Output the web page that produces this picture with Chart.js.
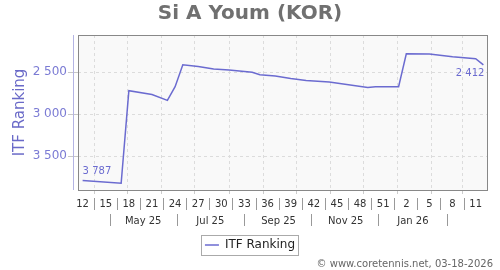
<!DOCTYPE html>
<html>
<head>
<meta charset="utf-8">
<script src="https://cdn.jsdelivr.net/npm/chart.js@4.4.1/dist/chart.umd.min.js"></script>
<style>
  html, body { margin: 0; padding: 0; background: #fff; }
  #wrap { width: 500px; height: 270px; }
</style>
</head>
<body>
<div id="wrap"><canvas id="chart"></canvas></div>
<script>
// weekly ranking points (week index counted from the first ranking week)
const weekIndex = [0, 5, 6, 9, 11, 12, 13, 15, 17, 19, 22, 23, 25, 27, 29, 32, 37, 38, 41, 42, 45, 48, 51, 52];
const ranking = [3787, 3821, 2719, 2765, 2834, 2671, 2410, 2430, 2461, 2473, 2500, 2530, 2544, 2575, 2598, 2615, 2680, 2672, 2672, 2280, 2283, 2315, 2338, 2412];

const weekLabels = ["12", "15", "18", "21", "24", "27", "30", "33", "36", "39", "42", "45", "48", "51", "2", "5", "8", "11"];
const weekLabelIndex = [0, 3, 6, 9, 12, 15, 18, 21, 24, 27, 30, 33, 36, 39, 42, 45, 48, 51];

const monthLabels = ["May 25", "Jul 25", "Sep 25", "Nov 25", "Jan 26"];
const monthLabelDates = ["2025-05-15", "2025-07-15", "2025-09-15", "2025-11-15", "2026-01-15"];
const monthSeparatorDates = ["2025-04-15", "2025-06-15", "2025-08-15", "2025-10-15", "2025-12-15", "2026-02-15"];
const monthGridDates = ["2025-04-01", "2025-05-01", "2025-06-01", "2025-07-01", "2025-08-01", "2025-09-01",
  "2025-10-01", "2025-11-01", "2025-12-01", "2026-01-01", "2026-02-01", "2026-03-01"];
const rankTicks = [2500, 3000, 3500];
const firstWeekDate = "2025-03-21";

const X_MIN = -0.6;
const X_MAX = 52.6;
const Y_MIN = 2056;
const Y_MAX = 3901;
const LINE_COLOR = "#6b6bd0";

Chart.defaults.font.family = "'DejaVu Sans', Verdana, sans-serif";

function toWeeks(date) {
  return (Date.parse(date) - Date.parse(firstWeekDate)) / (7 * 86400000);
}

function fmt(n) {
  return String(n).replace(/\B(?=(\d{3})+(?!\d))/g, " ");
}

// an x axis row showing labels with little "|" separators between them
function labelAxis(weight, values, labels, separators, height, pad) {
  const ticks = values.map((v, i) => ({ value: v, label: labels[i] }))
    .concat(separators.map((v) => ({ value: v, label: "" })))
    .sort((a, b) => a.value - b.value);
  return {
    type: "linear",
    position: "bottom",
    weight,
    min: X_MIN,
    max: X_MAX,
    afterBuildTicks: (scale) => { scale.ticks = ticks.map((t) => ({ value: t.value })); },
    afterFit: (scale) => { scale.height = height; },
    border: { display: false },
    grid: {
      drawOnChartArea: false,
      drawTicks: true,
      tickLength: 12,
      tickColor: (ctx) => (ctx.tick && separators.includes(ctx.tick.value) ? "#999" : "rgba(0,0,0,0)"),
    },
    ticks: {
      autoSkip: false,
      maxRotation: 0,
      minRotation: 0,
      padding: pad,
      color: "#333",
      font: { size: 10 },
      callback: (value, index) => ticks[index].label,
    },
  };
}

const weekSeparators = weekLabelIndex.slice(1).map((k, i) => (k + weekLabelIndex[i]) / 2);

const frame = {
  id: "frame",
  beforeDraw(chart) {
    const { ctx, chartArea: a } = chart;
    ctx.save();
    ctx.fillStyle = "#f9f9f9";
    ctx.fillRect(a.left, a.top, a.width, a.height);
    ctx.restore();
  },
  afterDraw(chart) {
    const { ctx, chartArea: a } = chart;
    ctx.save();
    ctx.strokeStyle = "#888";
    ctx.lineWidth = 1;
    ctx.strokeRect(Math.round(a.left) + 0.5, Math.round(a.top) + 0.5, Math.round(a.width) - 1, Math.round(a.height));
    ctx.strokeStyle = "#b4b4e4";
    ctx.beginPath();
    ctx.moveTo(Math.round(a.left) - 4.5, a.top);
    ctx.lineTo(Math.round(a.left) - 4.5, a.bottom);
    ctx.stroke();
    const box = chart.legend.legendHitBoxes[0];
    if (box) {
      ctx.strokeStyle = "#aaa";
      ctx.strokeRect(Math.round(box.left) - 3.5, Math.round(box.top) - 3.5, Math.round(box.width) + 7, Math.round(box.height) + 8);
    }
    ctx.restore();
  },
};

const pointLabels = {
  id: "pointLabels",
  afterDatasetsDraw(chart) {
    const pts = chart.getDatasetMeta(0).data;
    const ctx = chart.ctx;
    const first = pts[0];
    const last = pts[pts.length - 1];
    ctx.save();
    ctx.font = "10px 'DejaVu Sans'";
    ctx.fillStyle = LINE_COLOR;
    ctx.textBaseline = "middle";
    ctx.textAlign = "left";
    ctx.fillText(fmt(ranking[0]), first.x, first.y - 9);
    ctx.textAlign = "right";
    ctx.fillText(fmt(ranking[ranking.length - 1]), last.x + 1, last.y + 8);
    ctx.restore();
  },
};

new Chart(document.getElementById("chart"), {
  type: "line",
  data: {
    datasets: [{
      label: "ITF Ranking",
      data: weekIndex.map((k, i) => ({ x: k, y: ranking[i] })),
      borderColor: LINE_COLOR,
      backgroundColor: LINE_COLOR,
      borderWidth: 1.5,
      pointRadius: 0,
      tension: 0,
      xAxisID: "x",
      yAxisID: "y",
    }],
  },
  options: {
    responsive: true,
    maintainAspectRatio: false,
    animation: false,
    layout: { padding: { left: 7, right: 7, top: 0, bottom: 0 } },
    scales: {
      x: {
        type: "linear",
        position: "bottom",
        weight: 0,
        min: X_MIN,
        max: X_MAX,
        afterBuildTicks: (scale) => { scale.ticks = monthGridDates.map((d) => ({ value: toWeeks(d) })); },
        afterFit: (scale) => { scale.height = 8; },
        border: { display: false, dash: [3, 3] },
        grid: { color: "#dcdcdc", drawTicks: true, tickLength: 4, tickColor: "#ccc" },
        ticks: { display: false },
      },
      xWeek: labelAxis(1, weekLabelIndex, weekLabels, weekSeparators, 16, -12),
      xMonth: labelAxis(2, monthLabelDates.map(toWeeks), monthLabels, monthSeparatorDates.map(toWeeks), 19, -11),
      y: {
        position: "left",
        reverse: true,
        min: Y_MIN,
        max: Y_MAX,
        afterBuildTicks: (scale) => { scale.ticks = rankTicks.map((v) => ({ value: v })); },
        afterFit: (scale) => { scale.width = 71; },
        border: { display: false, dash: [3, 3] },
        grid: { color: "#dcdcdc", tickLength: 10, tickColor: "#c8c8c8" },
        ticks: { color: "#7b7bd4", font: { size: 12 }, padding: 1, callback: (v) => fmt(v) },
        title: {
          display: true,
          text: "ITF Ranking",
          color: "#6a6ac8",
          font: { size: 15 },
          padding: { top: 4, bottom: 0 },
        },
      },
      yRight: {
        position: "right",
        min: 0,
        max: 1,
        afterFit: (scale) => { scale.width = 5; },
        border: { display: false },
        grid: { display: false },
        ticks: { display: false },
      },
    },
    plugins: {
      title: {
        display: true,
        text: "Si A Youm (KOR)",
        color: "#707070",
        font: { size: 20, weight: "bold" },
        padding: { top: 2, bottom: 9 },
      },
      subtitle: {
        display: true,
        position: "bottom",
        align: "end",
        text: "© www.coretennis.net, 03-18-2026",
        color: "#666",
        font: { size: 10 },
        padding: { top: -3, bottom: 0 },
      },
      legend: {
        position: "bottom",
        labels: {
          usePointStyle: true,
          pointStyle: "line",
          pointStyleWidth: 14,
          color: "#222",
          font: { size: 12 },
          padding: 6,
        },
      },
      tooltip: { enabled: false },
    },
  },
  plugins: [frame, pointLabels],
});
</script>
</body>
</html>
